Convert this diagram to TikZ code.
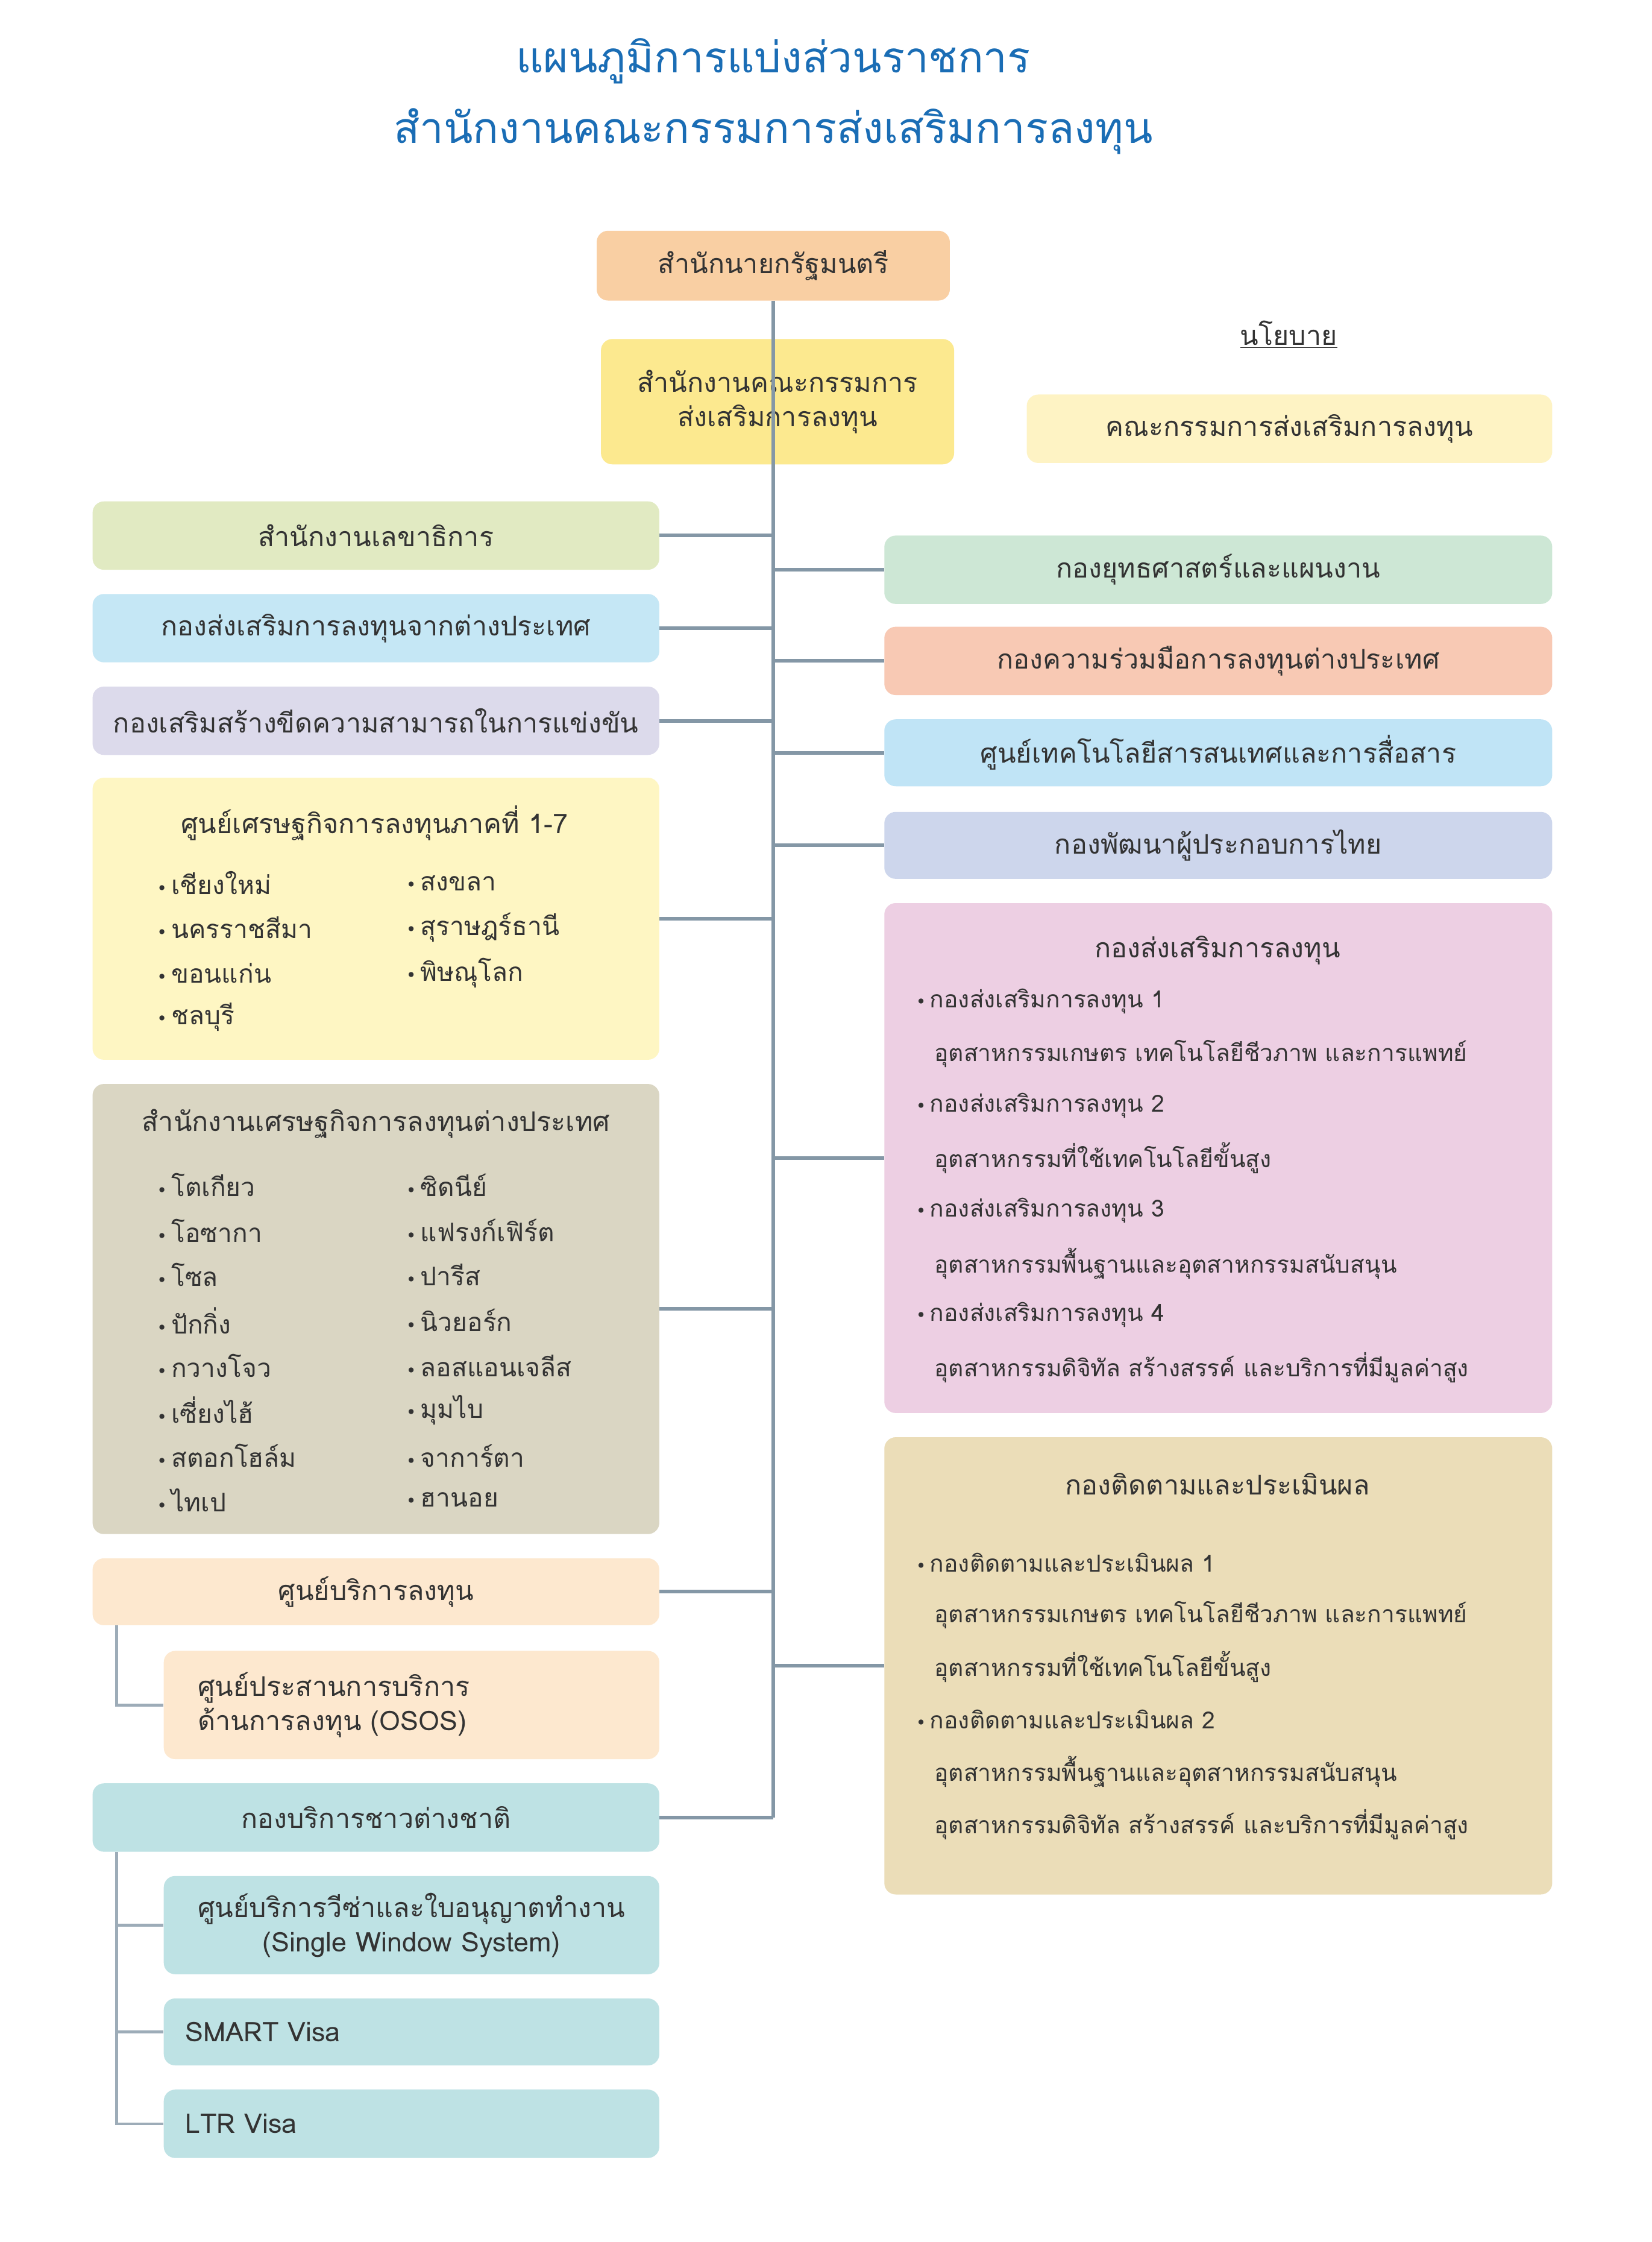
\documentclass[tikz,border=0pt]{standalone}
\usepackage{fontspec}
\setmainfont[Script=Thai]{Loma}
\newfontfamily\dejavu{DejaVu Sans}
\usetikzlibrary{calc,positioning}
\definecolor{titleblue}{HTML}{1A6DB5}
\definecolor{linegray}{HTML}{8497A6}
\definecolor{txt}{HTML}{333333}
\definecolor{cpm}{HTML}{F9CFA3}
\definecolor{cboi}{HTML}{FCE98F}
\definecolor{cboard}{HTML}{FEF3C4}
\definecolor{csec}{HTML}{E1EAC2}
\definecolor{cfip}{HTML}{C5E7F5}
\definecolor{ccmp}{HTML}{DCDAEB}
\definecolor{creg}{HTML}{FEF6C3}
\definecolor{covs}{HTML}{DAD6C3}
\definecolor{cisc}{HTML}{FDE8CF}
\definecolor{cfsd}{HTML}{BEE2E4}
\definecolor{cstr}{HTML}{CDE7D5}
\definecolor{ccoop}{HTML}{F8C9B4}
\definecolor{cict}{HTML}{C0E4F6}
\definecolor{csup}{HTML}{CDD6EC}
\definecolor{cinv}{HTML}{EDCFE3}
\definecolor{cmon}{HTML}{EBDDB8}
\newcommand{\bul}{{\dejavu\fontsize{12}{14}\selectfont •}\,}
\tikzset{
  box/.style={rounded corners=8pt, inner sep=0pt, text=txt,
    font=\fontsize{19}{24}\selectfont, align=center},
  conn/.style={draw=linegray, line width=2.5pt},
  subconn/.style={draw=linegray!80, line width=2pt},
  item/.style={anchor=west, inner sep=0pt, text=txt, font=\fontsize{18}{22}\selectfont},
  small/.style={anchor=west, inner sep=0pt, text=txt, font=\fontsize{16.5}{20}\selectfont}
}
\begin{document}
\begin{tikzpicture}[x=1pt,y=-1pt]
  \useasboundingbox[fill=white] (0,0) rectangle (1160,1574);

  % title
  \node (title1) at (543,43) [text=titleblue, font=\fontsize{30}{36}\selectfont]
        {แผนภูมิการแบ่งส่วนราชการ};
  \node (title2) at (543,92) [text=titleblue, font=\fontsize{30}{36}\selectfont]
        {สำนักงานคณะกรรมการส่งเสริมการลงทุน};

  % top
  \node (pm) at (543,186.5) [box, fill=cpm, minimum width=248pt, minimum height=49pt]
        {สำนักนายกรัฐมนตรี};
  \node (boi) at (546,282) [box, fill=cboi, minimum width=248pt, minimum height=88pt]
        {สำนักงานคณะกรรมการ\\ส่งเสริมการลงทุน};
  \node (pol) at (905,235) [text=txt, font=\fontsize{19}{24}\selectfont]
        {\underline{นโยบาย}};
  \node (board) at (905.5,301) [box, fill=cboard, minimum width=369pt, minimum height=48pt]
        {คณะกรรมการส่งเสริมการลงทุน};

  \coordinate (ttop) at (543,211);
  \coordinate (tbot) at (543,1276);
  \draw[conn] (ttop) -- (tbot);

  % left column
  \node (sec) at (264,376) [box, fill=csec, minimum width=398pt, minimum height=48pt]
        {สำนักงานเลขาธิการ};
  \node (fip) at (264,441) [box, fill=cfip, minimum width=398pt, minimum height=48pt]
        {กองส่งเสริมการลงทุนจากต่างประเทศ};
  \node (cmp) at (264,506) [box, fill=ccmp, minimum width=398pt, minimum height=48pt]
        {กองเสริมสร้างขีดความสามารถในการแข่งขัน};
  \node (reg) at (264,645) [box, fill=creg, minimum width=398pt, minimum height=198pt] {};
  \node (regt) at (263,578) [text=txt, font=\fontsize{19}{24}\selectfont]
        {ศูนย์เศรษฐกิจการลงทุนภาคที่ 1-7};
  \foreach \y/\t [count=\i] in {620/เชียงใหม่,651/นครราชสีมา,683/ขอนแก่น,714/ชลบุรี}
    \node (ra\i) at (110,\y) [item] {\bul\t};
  \foreach \y/\t [count=\i] in {620/สงขลา,651/สุราษฎร์ธานี,683/พิษณุโลก}
    \node (rb\i) at (285,\y) [item] {\bul\t};

  \node (ovs) at (264,919) [box, fill=covs, minimum width=398pt, minimum height=316pt] {};
  \node (ovst) at (264,789) [text=txt, font=\fontsize{19}{24}\selectfont]
        {สำนักงานเศรษฐกิจการลงทุนต่างประเทศ};
  \foreach \y/\t [count=\i] in {832/โตเกียว,864/โอซากา,895/โซล,927/ปักกิ่ง,959/กวางโจว,990/เซี่ยงไฮ้,1022/สตอกโฮล์ม,1053/ไทเป}
    \node (oa\i) at (110,\y) [item] {\bul\t};
  \foreach \y/\t [count=\i] in {832/ซิดนีย์,864/แฟรงก์เฟิร์ต,895/ปารีส,927/นิวยอร์ก,959/ลอสแอนเจลีส,990/มุมไบ,1022/จาการ์ตา,1053/ฮานอย}
    \node (ob\i) at (285,\y) [item] {\bul\t};

  \node (isc) at (264,1117.5) [box, fill=cisc, minimum width=398pt, minimum height=47pt]
        {ศูนย์บริการลงทุน};
  \node (osos) at (289,1197) [box, fill=cisc, minimum width=348pt, minimum height=76pt,
        align=left, text width=300pt] {ศูนย์ประสานการบริการ\\ด้านการลงทุน (OSOS)};
  \node (fsd) at (264,1276) [box, fill=cfsd, minimum width=398pt, minimum height=48pt]
        {กองบริการชาวต่างชาติ};
  \node (sws) at (289,1351.5) [box, fill=cfsd, minimum width=348pt, minimum height=69pt]
        {ศูนย์บริการวีซ่าและใบอนุญาตทำงาน\\(Single Window System)};
  \node (smart) at (289,1426.5) [box, fill=cfsd, minimum width=348pt, minimum height=47pt,
        align=left, text width=318pt] {SMART Visa};
  \node (ltr) at (289,1491) [box, fill=cfsd, minimum width=348pt, minimum height=48pt,
        align=left, text width=318pt] {LTR Visa};

  % right column
  \node (str) at (855.5,400) [box, fill=cstr, minimum width=469pt, minimum height=48pt]
        {กองยุทธศาสตร์และแผนงาน};
  \node (coop) at (855.5,464) [box, fill=ccoop, minimum width=469pt, minimum height=48pt]
        {กองความร่วมมือการลงทุนต่างประเทศ};
  \node (ict) at (855.5,528.5) [box, fill=cict, minimum width=469pt, minimum height=47pt]
        {ศูนย์เทคโนโลยีสารสนเทศและการสื่อสาร};
  \node (sup) at (855.5,593.5) [box, fill=csup, minimum width=469pt, minimum height=47pt]
        {กองพัฒนาผู้ประกอบการไทย};

  \node (inv) at (855.5,813) [box, fill=cinv, minimum width=469pt, minimum height=358pt] {};
  \node (invt) at (855,667) [text=txt, font=\fontsize{19}{24}\selectfont] {กองส่งเสริมการลงทุน};
  \foreach \y/\t [count=\i] in {703/{\bul กองส่งเสริมการลงทุน 1},
      740/{\hspace*{13pt}อุตสาหกรรมเกษตร เทคโนโลยีชีวภาพ และการแพทย์},
      776/{\bul กองส่งเสริมการลงทุน 2},
      813/{\hspace*{13pt}อุตสาหกรรมที่ใช้เทคโนโลยีขั้นสูง},
      850/{\bul กองส่งเสริมการลงทุน 3},
      887/{\hspace*{13pt}อุตสาหกรรมพื้นฐานและอุตสาหกรรมสนับสนุน},
      923/{\bul กองส่งเสริมการลงทุน 4},
      960/{\hspace*{13pt}อุตสาหกรรมดิจิทัล สร้างสรรค์ และบริการที่มีมูลค่าสูง}}
    \node (iv\i) at (643,\y) [small] {\t};

  \node (mon) at (855.5,1169.5) [box, fill=cmon, minimum width=469pt, minimum height=321pt] {};
  \node (mont) at (855,1042) [text=txt, font=\fontsize{19}{24}\selectfont] {กองติดตามและประเมินผล};
  \foreach \y/\t [count=\i] in {1097/{\bul กองติดตามและประเมินผล 1},
      1134/{\hspace*{13pt}อุตสาหกรรมเกษตร เทคโนโลยีชีวภาพ และการแพทย์},
      1170/{\hspace*{13pt}อุตสาหกรรมที่ใช้เทคโนโลยีขั้นสูง},
      1207/{\bul กองติดตามและประเมินผล 2},
      1244/{\hspace*{13pt}อุตสาหกรรมพื้นฐานและอุตสาหกรรมสนับสนุน},
      1281/{\hspace*{13pt}อุตสาหกรรมดิจิทัล สร้างสรรค์ และบริการที่มีมูลค่าสูง}}
    \node (mo\i) at (643,\y) [small] {\t};

  % connectors to trunk
  \foreach \n in {sec,fip,cmp,reg,ovs,isc,fsd}
    \draw[conn] (\n.east) -- (\n.east -| ttop);
  \foreach \n in {str,coop,ict,sup,inv,mon}
    \draw[conn] (\n.west) -- (\n.west -| ttop);

  % sub-units
  \coordinate (isub) at ($(isc.south west)+(17pt,0)$);
  \coordinate (fsub) at ($(fsd.south west)+(17pt,0)$);
  \draw[subconn] (isub) |- (osos.west);
  \draw[subconn] (fsub) |- (ltr.west);
  \draw[subconn] (sws.west) -- (sws.west -| fsub);
  \draw[subconn] (smart.west) -- (smart.west -| fsub);
\end{tikzpicture}
\end{document}
